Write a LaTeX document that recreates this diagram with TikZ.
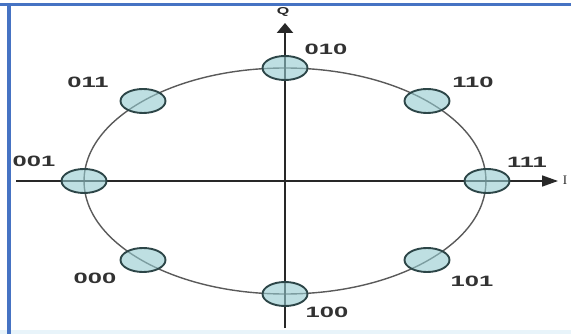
\documentclass[tikz,border=0pt]{standalone}
\usepackage{fontspec}
\setmainfont{Liberation Sans}
\newfontfamily\serifI{Liberation Serif}
\usetikzlibrary{shapes.geometric,arrows.meta}
\definecolor{ptfill}{RGB}{148,203,208}
\definecolor{ptedge}{RGB}{45,70,72}
\definecolor{txt}{RGB}{50,50,50}
\definecolor{axc}{RGB}{40,40,40}
\definecolor{circc}{RGB}{90,90,90}
\definecolor{frame}{RGB}{70,115,195}
\definecolor{bottomc}{RGB}{232,244,250}
\begin{document}
\begin{tikzpicture}[x=1pt,y=-1pt,
  sym/.style={ellipse, minimum width=45pt, minimum height=24pt, inner sep=0pt,
    draw=ptedge, line width=1.9pt, fill=ptfill, fill opacity=0.6, draw opacity=1},
  lbl/.style={text=txt, font=\bfseries\fontsize{15}{15}\selectfont, inner sep=0pt},
  circline/.style={draw=circc, line width=1.4pt},
  iaxis/.style={draw=axc, line width=1.6pt, -{Triangle[length=16pt,width=11pt]}},
  qaxis/.style={draw=axc, line width=2.8pt, -{Triangle[length=10pt,width=16pt]}}]
\useasboundingbox (0,0) rectangle (571,334);
\fill[white] (0,0) rectangle (571,334);
\fill[bottomc] (0,330) rectangle (571,334);
\draw[frame, line width=3pt] (0,4.5) -- (571,4.5);
\draw[frame, line width=3.5pt] (9,4.5) -- (9,334);
% circle and axes
\coordinate (O) at (285,181);
\draw[circline] (O) ellipse [x radius=201pt, y radius=113pt];
\coordinate (Il) at (16,181);
\coordinate (Ir) at (558,181);
\coordinate (Qb) at (285,328);
\coordinate (Qt) at (285,23);
\draw[iaxis] (Il) -- (Ir);
\draw[qaxis] (Qb) -- (Qt);
\node[font=\bfseries\fontsize{10}{10}\selectfont, text=axc, inner sep=0pt] (Q) at (283,12) {\scalebox{1.6}[1]{Q}};
\node[font=\serifI\fontsize{13}{13}\selectfont, text=axc, inner sep=0pt] (I) at (565,180) {I};
% constellation points
\node[sym] (p001) at (84,181) {};
\node[sym] (p011) at (143,101) {};
\node[sym] (p010) at (285,68) {};
\node[sym] (p110) at (427,101) {};
\node[sym] (p111) at (487,181) {};
\node[sym] (p101) at (427,260) {};
\node[sym] (p100) at (285,294) {};
\node[sym] (p000) at (143,260) {};
% labels
\node[lbl] (l001) at (34,161) {\scalebox{1.7}[1]{001}};
\node[lbl] (l011) at (88,82) {\scalebox{1.7}[1]{011}};
\node[lbl] (l010) at (326,49) {\scalebox{1.7}[1]{010}};
\node[lbl] (l110) at (473,82) {\scalebox{1.7}[1]{110}};
\node[lbl] (l111) at (527,162) {\scalebox{1.7}[1]{111}};
\node[lbl] (l101) at (472,281) {\scalebox{1.7}[1]{101}};
\node[lbl] (l100) at (327,312) {\scalebox{1.7}[1]{100}};
\node[lbl] (l000) at (95,278) {\scalebox{1.7}[1]{000}};
\end{tikzpicture}
\end{document}
